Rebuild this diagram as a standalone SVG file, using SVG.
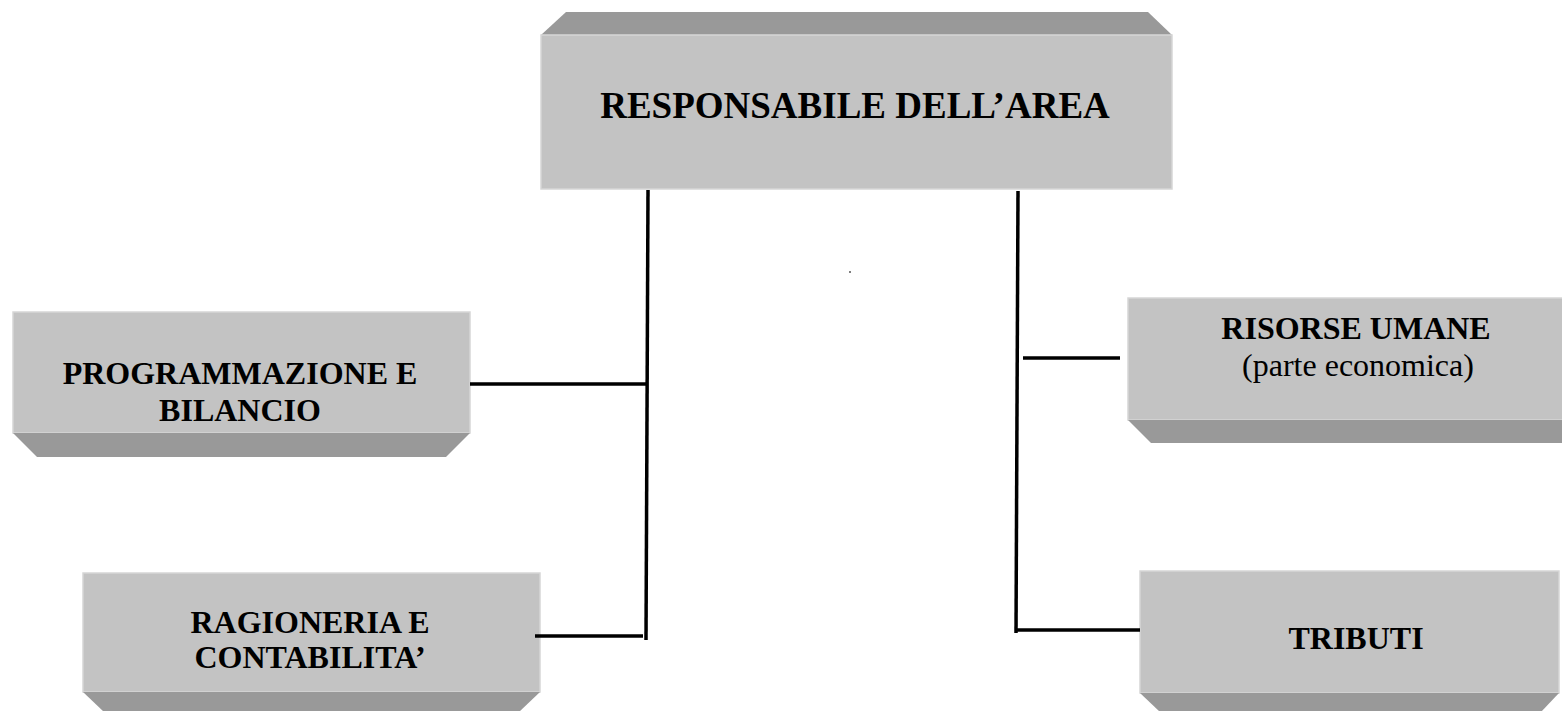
<svg xmlns="http://www.w3.org/2000/svg" width="1562" height="711" viewBox="0 0 1562 711">
  <style>
    .face { fill: #c3c3c3; stroke: #d6d6d6; stroke-width: 1.5; }
    .bevel { fill: #999999; }
    .t { font-family: "Liberation Serif", "Times New Roman", serif; font-size: 32px; fill: #000; text-anchor: middle; }
    .b { font-weight: bold; }
    .big { font-size: 37px; }
    .conn line { stroke: #000; stroke-width: 3.5; stroke-linecap: butt; }
  </style>
  <rect x="0" y="0" width="1562" height="711" fill="#ffffff"/>

  <g id="node-responsabile">
    <polygon class="bevel" points="566,12 1148,12 1172,35 541,35"/>
    <rect class="face" x="541" y="35" width="631" height="154"/>
    <text class="t b big" x="855" y="118">RESPONSABILE DELL’AREA</text>
  </g>

  <g id="node-programmazione">
    <rect class="face" x="13" y="312" width="457" height="121"/>
    <polygon class="bevel" points="13,433 470,433 446,457 37,457"/>
    <text class="t b" x="240" y="384">PROGRAMMAZIONE E</text>
    <text class="t b" x="240" y="421">BILANCIO</text>
  </g>

  <g id="node-ragioneria">
    <rect class="face" x="83" y="573" width="457" height="119"/>
    <polygon class="bevel" points="83,692 540,692 519,712 104,712"/>
    <text class="t b" x="310" y="633">RAGIONERIA E</text>
    <text class="t b" x="310" y="668">CONTABILITA’</text>
  </g>

  <g id="node-risorse">
    <rect class="face" x="1128" y="298" width="440" height="122"/>
    <polygon class="bevel" points="1128,420 1568,420 1568,443 1151,443"/>
    <text class="t b" x="1356" y="339">RISORSE UMANE</text>
    <text class="t" x="1358" y="376">(parte economica)</text>
  </g>

  <g id="node-tributi">
    <rect class="face" x="1140" y="571" width="419" height="122"/>
    <polygon class="bevel" points="1140,693 1559,693 1541,712 1160,712"/>
    <text class="t b" x="1356" y="649">TRIBUTI</text>
  </g>

  <g id="connectors" class="conn">
    <line x1="648" y1="190" x2="646" y2="640"/>
    <line x1="470" y1="384" x2="648" y2="384"/>
    <line x1="535" y1="636" x2="643" y2="636"/>
    <line x1="1018" y1="191" x2="1016" y2="633"/>
    <line x1="1023" y1="358" x2="1120" y2="358"/>
    <line x1="1016" y1="630" x2="1140" y2="630"/>
  </g>

  <rect x="849.5" y="271" width="1" height="2" fill="#000"/>
</svg>
